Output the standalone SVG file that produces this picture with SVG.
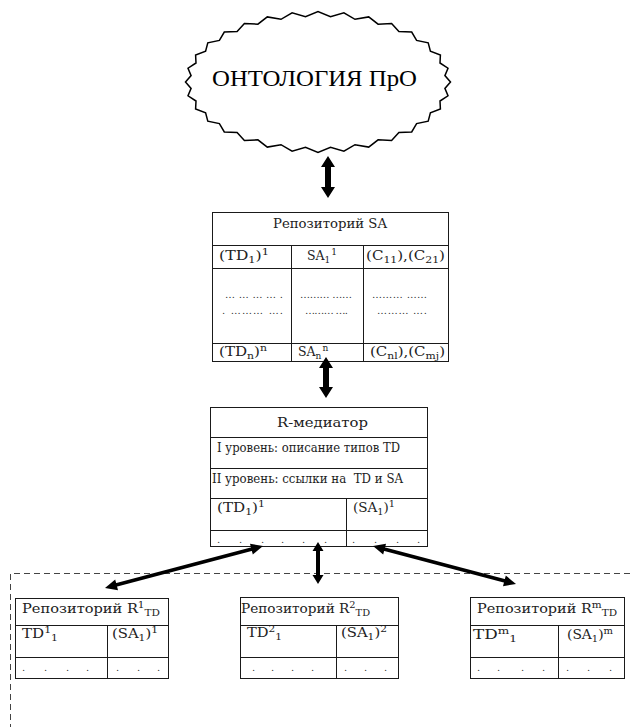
<svg xmlns="http://www.w3.org/2000/svg" width="630" height="727" viewBox="0 0 630 727">
  <style>
    .bg { fill: #ffffff; }
    .box { fill: #ffffff; stroke: #1a1a1a; stroke-width: 1; }
    .ln { stroke: #1a1a1a; stroke-width: 1; fill: none; }
    .cloud { fill: #ffffff; stroke: #000000; stroke-width: 1.5; stroke-linejoin: miter; }
    .dash { stroke: #444444; stroke-width: 1; stroke-dasharray: 6 4; fill: none; }
    .arrow { fill: #000000; }
    .shaft { stroke: #000000; stroke-width: 3.6; fill: none; }
    .title { font-family: "Liberation Serif", "DejaVu Serif", serif; font-size: 23px; fill: #000; }
    .t { font-family: "DejaVu Serif", "Liberation Serif", serif; font-size: 12.5px; fill: #222; }
    .s { font-size: 9px; }
    .dots { font-family: "DejaVu Serif", serif; font-size: 10px; fill: #333; }
  </style>

  <rect class="bg" x="0" y="0" width="630" height="727"/>

  <!-- Ontology cloud -->
  <g id="ontology">
    <polygon class="cloud" points="450.5,82 444.9,88.4 448,95.8 440,101 440.4,109 430.4,112.9 428.2,121.2 416.6,123.6 411.7,131.9 398.9,132.6 391.6,140.6 378.1,139.8 368.7,147.1 355,144.7 343.9,151.1 330.5,147.2 318,152.5 305.5,147.2 292.1,151.1 281,144.7 267.3,147.1 257.9,139.8 244.4,140.6 237.1,132.6 224.3,131.9 219.4,123.6 207.8,121.2 205.6,112.9 195.6,109 196,101 188,95.8 191.1,88.4 185.5,82 191.1,75.6 188,68.2 196,63 195.6,55 205.6,51.1 207.8,42.8 219.4,40.4 224.3,32.1 237.1,31.4 244.4,23.4 257.9,24.2 267.3,16.9 281,19.3 292.1,12.9 305.5,16.8 318,11.5 330.5,16.8 343.9,12.9 355,19.3 368.7,16.9 378.1,24.2 391.6,23.4 398.9,31.4 411.7,32.1 416.6,40.4 428.2,42.8 430.4,51.1 440.4,55 440,63 448,68.2 444.9,75.6"/>
    <text class="title" x="212" y="86" textLength="205" lengthAdjust="spacingAndGlyphs">ОНТОЛОГИЯ ПрО</text>
  </g>

  <!-- Repository SA -->
  <g id="repo-sa">
    <rect class="box" x="212.5" y="212.5" width="236" height="149"/>
    <line class="ln" x1="212.5" y1="245.5" x2="448.5" y2="245.5"/>
    <line class="ln" x1="212.5" y1="268.5" x2="448.5" y2="268.5"/>
    <line class="ln" x1="212.5" y1="343.5" x2="448.5" y2="343.5"/>
    <line class="ln" x1="291.5" y1="245.5" x2="291.5" y2="361.5"/>
    <line class="ln" x1="363.5" y1="245.5" x2="363.5" y2="361.5"/>
    <text class="t" x="273" y="228" textLength="114" lengthAdjust="spacingAndGlyphs">Репозиторий SA</text>
    <text class="t" x="219" y="260" textLength="50" lengthAdjust="spacingAndGlyphs">(TD<tspan class="s" dy="3">1</tspan><tspan dy="-3">)</tspan><tspan class="s" dy="-5">1</tspan></text>
    <text class="t" x="307" y="260">SA<tspan class="s" dy="3">1</tspan><tspan class="s" dx="1" dy="-8">1</tspan></text>
    <text class="t" x="366" y="260" textLength="79" lengthAdjust="spacingAndGlyphs">(C<tspan class="s" dy="3">11</tspan><tspan dy="-3">),(C</tspan><tspan class="s" dy="3">21</tspan><tspan dy="-3">)</tspan></text>
    <text class="dots" x="225" y="298" textLength="58" lengthAdjust="spacing">…………. </text>
    <text class="dots" x="222" y="314" textLength="61" lengthAdjust="spacing">. ……… …. </text>
    <text class="dots" x="300" y="298" textLength="52" lengthAdjust="spacing">……… …… </text>
    <text class="dots" x="305" y="314" textLength="43" lengthAdjust="spacing">……… …. </text>
    <text class="dots" x="372" y="298" textLength="55" lengthAdjust="spacing">……… …… </text>
    <text class="dots" x="377" y="314" textLength="50" lengthAdjust="spacing">……… …. </text>
    <text class="t" x="219" y="356" textLength="48" lengthAdjust="spacingAndGlyphs">(TD<tspan class="s" dy="3">n</tspan><tspan dy="-3">)</tspan><tspan class="s" dy="-5">n</tspan></text>
    <text class="t" x="298" y="356">SA<tspan class="s" dy="3">n</tspan><tspan class="s" dx="1" dy="-8">n</tspan></text>
    <text class="t" x="370" y="356" textLength="75" lengthAdjust="spacingAndGlyphs">(C<tspan class="s" dy="3">nl</tspan><tspan dy="-3">),(C</tspan><tspan class="s" dy="3">mj</tspan><tspan dy="-3">)</tspan></text>
  </g>

  <!-- R-mediator -->
  <g id="r-mediator">
    <rect class="box" x="210.5" y="407.5" width="217" height="139"/>
    <line class="ln" x1="210.5" y1="437.5" x2="427.5" y2="437.5"/>
    <line class="ln" x1="210.5" y1="468.5" x2="427.5" y2="468.5"/>
    <line class="ln" x1="210.5" y1="498.5" x2="427.5" y2="498.5"/>
    <line class="ln" x1="210.5" y1="530.5" x2="427.5" y2="530.5"/>
    <line class="ln" x1="346.5" y1="498.5" x2="346.5" y2="546.5"/>
    <text class="t" x="277" y="427" textLength="91" lengthAdjust="spacingAndGlyphs">R-медиатор</text>
    <text class="t" x="217" y="452" textLength="183" lengthAdjust="spacingAndGlyphs">I уровень: описание типов TD</text>
    <text class="t" x="212" y="483" textLength="191" lengthAdjust="spacingAndGlyphs" xml:space="preserve">II уровень: ссылки на  TD и SA</text>
    <text class="t" x="217" y="512" textLength="48" lengthAdjust="spacingAndGlyphs">(TD<tspan class="s" dy="3">1</tspan><tspan dy="-3">)</tspan><tspan class="s" dy="-5">1</tspan></text>
    <text class="t" x="353" y="512" textLength="42" lengthAdjust="spacingAndGlyphs">(SA<tspan class="s" dy="3">1</tspan><tspan dy="-3">)</tspan><tspan class="s" dy="-5">1</tspan></text>
    <text class="dots" x="217 239 261 281 302 324" y="543">......</text>
    <text class="dots" x="352 374 396 417" y="543">....</text>
  </g>

  <!-- Local repositories -->
  <g id="repo-r1">
    <rect class="box" x="15.5" y="598.5" width="153" height="80"/>
    <line class="ln" x1="15.5" y1="625.5" x2="168.5" y2="625.5"/>
    <line class="ln" x1="15.5" y1="657.5" x2="168.5" y2="657.5"/>
    <line class="ln" x1="107.5" y1="625.5" x2="107.5" y2="678.5"/>
    <text class="t" x="22" y="613" textLength="138" lengthAdjust="spacingAndGlyphs">Репозиторий R<tspan class="s" dy="-5">1</tspan><tspan class="s" dy="8">TD</tspan></text>
    <text class="t" x="22" y="638" textLength="36" lengthAdjust="spacingAndGlyphs">TD<tspan class="s" dy="-5">1</tspan><tspan class="s" dy="8">1</tspan></text>
    <text class="t" x="112" y="638" textLength="46" lengthAdjust="spacingAndGlyphs">(SA<tspan class="s" dy="3">1</tspan><tspan dy="-3">)</tspan><tspan class="s" dy="-5">1</tspan></text>
    <text class="dots" x="22 44 66 86" y="671">....</text>
    <text class="dots" x="116 137 157" y="671">...</text>
  </g>

  <g id="repo-r2">
    <rect class="box" x="240.5" y="597.5" width="158" height="81"/>
    <line class="ln" x1="240.5" y1="625.5" x2="398.5" y2="625.5"/>
    <line class="ln" x1="240.5" y1="657.5" x2="398.5" y2="657.5"/>
    <line class="ln" x1="336.5" y1="625.5" x2="336.5" y2="678.5"/>
    <text class="t" x="241" y="613" textLength="129" lengthAdjust="spacingAndGlyphs">Репозиторий R<tspan class="s" dy="-5">2</tspan><tspan class="s" dy="8">TD</tspan></text>
    <text class="t" x="247" y="637" textLength="35" lengthAdjust="spacingAndGlyphs">TD<tspan class="s" dy="-5">2</tspan><tspan class="s" dy="8">1</tspan></text>
    <text class="t" x="341" y="637" textLength="46" lengthAdjust="spacingAndGlyphs">(SA<tspan class="s" dy="3">1</tspan><tspan dy="-3">)</tspan><tspan class="s" dy="-5">2</tspan></text>
    <text class="dots" x="252 271 291 311" y="671">....</text>
    <text class="dots" x="344 364 384" y="671">...</text>
  </g>

  <g id="repo-rm">
    <rect class="box" x="470.5" y="597.5" width="154" height="81"/>
    <line class="ln" x1="470.5" y1="625.5" x2="624.5" y2="625.5"/>
    <line class="ln" x1="470.5" y1="657.5" x2="624.5" y2="657.5"/>
    <line class="ln" x1="558.5" y1="625.5" x2="558.5" y2="678.5"/>
    <text class="t" x="477" y="613" textLength="140" lengthAdjust="spacingAndGlyphs">Репозиторий R<tspan class="s" dy="-5">m</tspan><tspan class="s" dy="8">TD</tspan></text>
    <text class="t" x="473" y="639" textLength="44" lengthAdjust="spacingAndGlyphs">TD<tspan class="s" dy="-5">m</tspan><tspan class="s" dy="8">1</tspan></text>
    <text class="t" x="567" y="639" textLength="46" lengthAdjust="spacingAndGlyphs">(SA<tspan class="s" dy="3">1</tspan><tspan dy="-3">)</tspan><tspan class="s" dy="-5">m</tspan></text>
    <text class="dots" x="477 497 521 542" y="671">....</text>
    <text class="dots" x="566 587 609" y="671">...</text>
  </g>

  <!-- Local repositories area -->
  <g id="local-area">
    <polyline class="dash" points="630,573.5 10.5,573.5 10.5,727"/>
  </g>

  <!-- Connectors -->
  <g id="connectors">
    <polygon class="arrow" points="328,156 335,167 331,167 331,187 335,187 328,198 321,187 325,187 325,167 321,167"/>
    <polygon class="arrow" points="326,357 333,368 329,368 329,387 333,387 326,398 319,387 323,387 323,368 319,368"/>
    <polygon class="arrow" points="318,542 323.5,551 320,551 320,575 323.5,575 318,584 312.5,575 316,575 316,551 312.5,551"/>
    <line class="shaft" x1="253" y1="548.7" x2="115" y2="585.3"/>
    <polygon class="arrow" points="263,546 252.8,554.4 250,543.8"/>
    <polygon class="arrow" points="105,588 118,590.2 115.2,579.6"/>
    <line class="shaft" x1="383" y1="548.7" x2="506" y2="581.3"/>
    <polygon class="arrow" points="373,546 383.2,554.4 386,543.8"/>
    <polygon class="arrow" points="516,584 503,586.2 505.8,575.6"/>
  </g>
</svg>
